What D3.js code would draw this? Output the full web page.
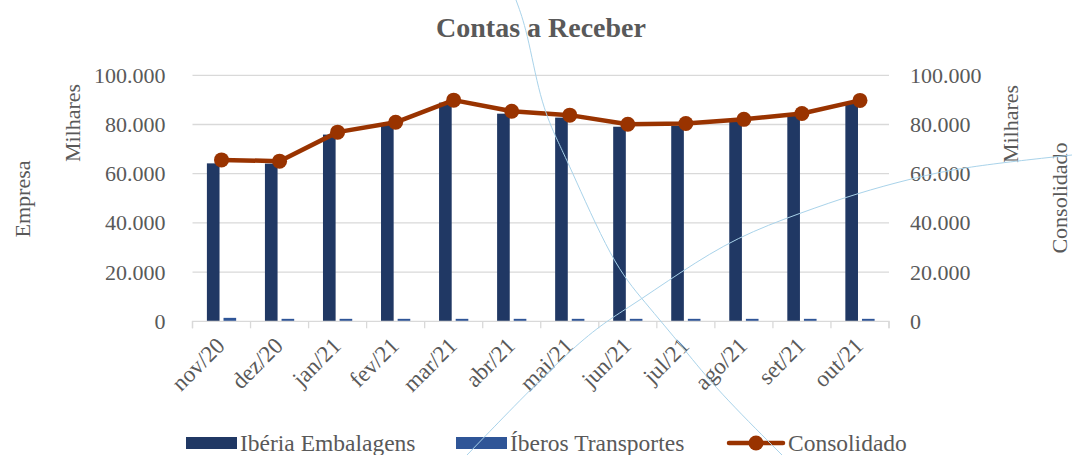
<!DOCTYPE html>
<html>
<head>
<meta charset="utf-8">
<script src="https://cdn.jsdelivr.net/npm/d3@7"></script>
<style>
  html, body { margin: 0; padding: 0; background: #ffffff; }
  svg { display: block; }
  text { font-family: "Liberation Serif", "DejaVu Serif", serif; fill: #595959; }
</style>
</head>
<body>
<svg id="chart" width="1072" height="455"></svg>
<script>
// ---- data ----
const categories = ["nov/20","dez/20","jan/21","fev/21","mar/21","abr/21","mai/21","jun/21","jul/21","ago/21","set/21","out/21"];
const iberiaEmbalagens = [64200, 64100, 75900, 79900, 88900, 84400, 82800, 79100, 79400, 81100, 83500, 88800];
const iberosTransportes = [1400, 1000, 1000, 1000, 1000, 1000, 1000, 1000, 1000, 1000, 1000, 1000];
const consolidado = [65600, 65100, 76900, 80900, 89900, 85400, 83800, 80100, 80400, 82100, 84500, 89800];
const yTicks = [0, 20000, 40000, 60000, 80000, 100000];
const seriesNames = ["Ibéria Embalagens", "Íberos Transportes", "Consolidado"];
const title = "Contas a Receber";

// ---- layout ----
const W = 1072, H = 455;
const plot = { left: 192.5, right: 889, top: 75.3, bottom: 321.3 };
const colors = { iberia: "#203864", iberos: "#2F5597", cons: "#993300", grid: "#d9d9d9", text: "#595959", deco: "#a9d3ea" };

const svg = d3.select("#chart");

const x = d3.scaleBand().domain(categories).range([plot.left, plot.right]).paddingInner(0).paddingOuter(0);
const x1 = d3.scaleBand().domain(["iberia", "iberos"]).range([0, x.bandwidth()]).paddingInner(0.24).paddingOuter(0.866);
const yL = d3.scaleLinear().domain([0, 100000]).range([plot.bottom, plot.top]);
const yR = d3.scaleLinear().domain([0, 100000]).range([plot.bottom, plot.top]);
const fmt = v => d3.format(",")(v).replace(/,/g, ".");

// gridlines
svg.append("g").selectAll("line").data(yTicks.filter(d => d > 0)).join("line")
  .attr("x1", plot.left).attr("x2", plot.right)
  .attr("y1", d => yL(d)).attr("y2", d => yL(d))
  .attr("stroke", colors.grid).attr("stroke-width", 1.3);

// left axis labels
const leftAxis = d3.axisLeft(yL).tickValues(yTicks).tickFormat(fmt).tickSize(0).tickPadding(27);
const gL = svg.append("g").attr("transform", `translate(${plot.left},0)`).call(leftAxis);
gL.select(".domain").remove();
gL.selectAll("text").attr("font-size", 22).attr("fill", colors.text).attr("font-family", "Liberation Serif");

// right axis labels
const rightAxis = d3.axisRight(yR).tickValues(yTicks).tickFormat(fmt).tickSize(0).tickPadding(21);
const gR = svg.append("g").attr("transform", `translate(${plot.right},0)`).call(rightAxis);
gR.select(".domain").remove();
gR.selectAll("text").attr("font-size", 22).attr("fill", colors.text).attr("font-family", "Liberation Serif");

// bars
const bars = svg.append("g");
bars.selectAll("rect.iberia").data(categories).join("rect").attr("class", "iberia")
  .attr("x", (d) => x(d) + x1("iberia")).attr("width", x1.bandwidth())
  .attr("y", (d, i) => yL(iberiaEmbalagens[i])).attr("height", (d, i) => yL(0) - yL(iberiaEmbalagens[i]))
  .attr("fill", colors.iberia);
bars.selectAll("rect.iberos").data(categories).join("rect").attr("class", "iberos")
  .attr("x", (d) => x(d) + x1("iberos")).attr("width", x1.bandwidth())
  .attr("y", (d, i) => yL(iberosTransportes[i])).attr("height", (d, i) => yL(0) - yL(iberosTransportes[i]))
  .attr("fill", colors.iberos);

// bottom axis
const bottomAxis = d3.axisBottom(x).tickSize(7).tickFormat("");
const gB = svg.append("g").attr("transform", `translate(0,${plot.bottom})`).call(bottomAxis);
gB.select(".domain").attr("stroke", colors.grid).attr("stroke-width", 1.3).attr("d", `M${plot.left},7V0H${plot.right}V7`);
gB.selectAll(".tick").remove();
svg.append("g").selectAll("line").data(categories.concat(["__end"])).join("line")
  .attr("x1", (d, i) => i < categories.length ? x(d) : plot.right)
  .attr("x2", (d, i) => i < categories.length ? x(d) : plot.right)
  .attr("y1", plot.bottom).attr("y2", plot.bottom + 7)
  .attr("stroke", colors.grid).attr("stroke-width", 1.3);

// x labels
svg.append("g").selectAll("text").data(categories).join("text")
  .attr("transform", d => `translate(${x(d) + x.bandwidth() / 2 - 1},${plot.bottom + 20}) rotate(-45)`)
  .attr("text-anchor", "end").attr("dy", "0.35em")
  .attr("font-size", 23).text(d => d);

// line
const line = d3.line().x((d, i) => x(categories[i]) + x.bandwidth() / 2).y(d => yR(d));
svg.append("path").datum(consolidado).attr("d", line)
  .attr("fill", "none").attr("stroke", colors.cons).attr("stroke-width", 4.5).attr("stroke-linejoin", "round");
svg.append("g").selectAll("circle").data(consolidado).join("circle")
  .attr("cx", (d, i) => x(categories[i]) + x.bandwidth() / 2).attr("cy", d => yR(d))
  .attr("r", 7.5).attr("fill", colors.cons);

// title
svg.append("text").attr("x", 541).attr("y", 37).attr("text-anchor", "middle")
  .attr("font-size", 28).attr("font-weight", "bold").text(title);

// axis titles
const axTitle = (tx, ty, label) => svg.append("text")
  .attr("transform", `translate(${tx},${ty}) rotate(-90)`).attr("text-anchor", "middle")
  .attr("dy", "0.35em").attr("font-size", 22).text(label);
axTitle(22, 199, "Empresa");
axTitle(72, 123, "Milhares");
axTitle(1010, 124, "Milhares");
axTitle(1059, 198, "Consolidado");

// legend
const legY = 443;
const legFont = 23.5;
const leg = svg.append("g");
leg.append("rect").attr("x", 186).attr("y", legY - 6).attr("width", 51).attr("height", 12).attr("fill", colors.iberia);
leg.append("text").attr("x", 240).attr("y", legY).attr("dy", "0.35em").attr("font-size", legFont).text(seriesNames[0]);
leg.append("rect").attr("x", 456).attr("y", legY - 6).attr("width", 51).attr("height", 12).attr("fill", colors.iberos);
leg.append("text").attr("x", 510).attr("y", legY).attr("dy", "0.35em").attr("font-size", legFont).text(seriesNames[1]);
leg.append("line").attr("x1", 729).attr("x2", 783).attr("y1", legY).attr("y2", legY)
  .attr("stroke", colors.cons).attr("stroke-width", 4.5).attr("stroke-linecap", "round");
leg.append("circle").attr("cx", 756).attr("cy", legY).attr("r", 7.5).attr("fill", colors.cons);
leg.append("text").attr("x", 788).attr("y", legY).attr("dy", "0.35em").attr("font-size", legFont).text(seriesNames[2]);

// stray thin connector curves present in the source picture (decoration)
const decoCurveA = [[516,0],[527,30],[540,100],[556,138],[567,160],[613,264],[643,300],[685,350],[717,390],[782,455]];
const decoCurveB = [[467,455],[582,336],[627,309],[682,271],[737,237],[800,213],[858,193],[910,179],[962,167],[1072,155]];
const deco = d3.line().curve(d3.curveBasis);
[decoCurveA, decoCurveB].forEach(pts => svg.append("path").attr("d", deco(pts))
  .attr("fill", "none").attr("stroke", colors.deco).attr("stroke-width", 1));
</script>
</body>
</html>
